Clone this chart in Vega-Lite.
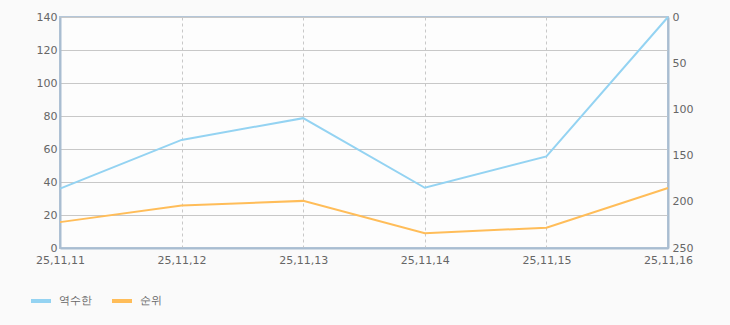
{
  "$schema": "https://vega.github.io/schema/vega-lite/v6.json",
  "width": 608,
  "height": 231,
  "autosize": {"type": "none"},
  "padding": {"left": 60, "top": 17, "right": 62, "bottom": 77},
  "background": "#fafafa",
  "config": {
    "view": {"stroke": "#b4c6d8", "strokeWidth": 2, "fill": "#fdfdfd"},
    "font": "DejaVu Sans",
    "axis": {"labelColor": "#666666", "labelFontSize": 11, "labelFont": "DejaVu Sans"}
  },
  "data": {
    "values": [
      {"date": "25,11,11", "series": "역수한", "value": 36},
      {"date": "25,11,12", "series": "역수한", "value": 65.5},
      {"date": "25,11,13", "series": "역수한", "value": 78.7},
      {"date": "25,11,14", "series": "역수한", "value": 36.5},
      {"date": "25,11,15", "series": "역수한", "value": 55.5},
      {"date": "25,11,16", "series": "역수한", "value": 140},
      {"date": "25,11,11", "series": "순위", "value": 222},
      {"date": "25,11,12", "series": "순위", "value": 204},
      {"date": "25,11,13", "series": "순위", "value": 199},
      {"date": "25,11,14", "series": "순위", "value": 234},
      {"date": "25,11,15", "series": "순위", "value": 228},
      {"date": "25,11,16", "series": "순위", "value": 185}
    ]
  },
  "encoding": {
    "x": {
      "field": "date", "type": "ordinal", "title": null,
      "scale": {"type": "point", "padding": 0},
      "axis": {
        "labelAngle": 0, "domainColor": "#a9bdd1", "domainWidth": 2, "ticks": false,
        "labelPadding": 6, "grid": true, "gridColor": "#c8c8c8", "gridDash": [3, 3]
      }
    },
    "color": {
      "field": "series", "type": "nominal", "title": null,
      "scale": {"domain": ["역수한", "순위"], "range": ["#94d3f2", "#ffbd59"]},
      "legend": {
        "orient": "none", "legendX": -31, "legendY": 272, "direction": "horizontal",
        "symbolType": "stroke", "symbolStrokeWidth": 4, "symbolSize": 400,
        "labelFontSize": 11, "labelColor": "#666666", "columnPadding": 12, "labelOffset": 6
      }
    }
  },
  "layer": [
    {
      "transform": [{"filter": "datum.series === '역수한'"}],
      "mark": {"type": "line", "strokeWidth": 2},
      "encoding": {
        "y": {
          "field": "value", "type": "quantitative", "title": null,
          "scale": {"domain": [0, 140]},
          "axis": {
            "values": [0, 20, 40, 60, 80, 100, 120, 140], "domainColor": "#a9bdd1", "domainWidth": 2,
            "ticks": false, "labelPadding": 3, "grid": true, "gridColor": "#c8c8c8"
          }
        }
      }
    },
    {
      "transform": [{"filter": "datum.series === '순위'"}],
      "mark": {"type": "line", "strokeWidth": 2},
      "encoding": {
        "y": {
          "field": "value", "type": "quantitative", "title": null,
          "scale": {"domain": [0, 250], "reverse": true},
          "axis": {
            "orient": "right", "values": [0, 50, 100, 150, 200, 250], "domainColor": "#a9bdd1", "domainWidth": 2,
            "ticks": false, "labelPadding": 4, "grid": false
          }
        }
      }
    }
  ],
  "resolve": {"scale": {"y": "independent"}}
}
